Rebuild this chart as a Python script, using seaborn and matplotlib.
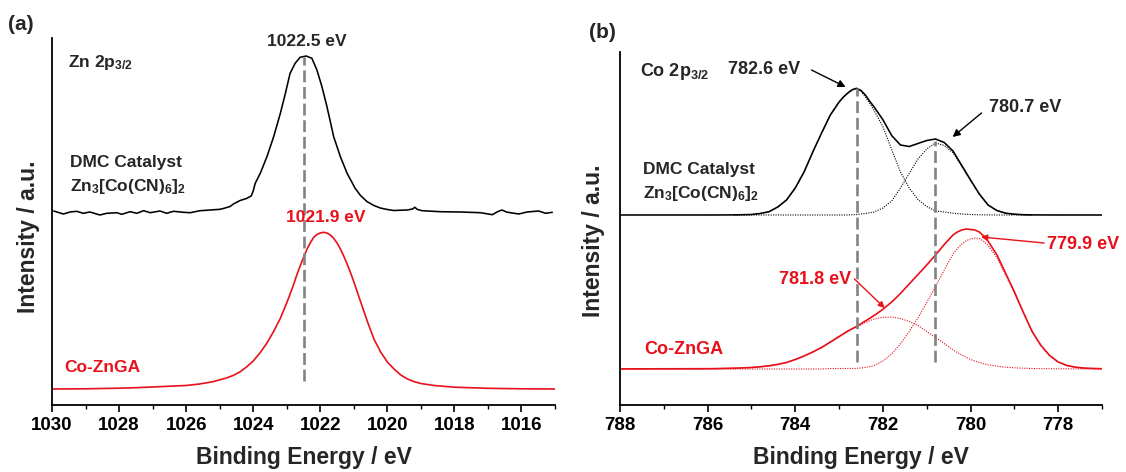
import matplotlib
matplotlib.use("Agg")
import matplotlib.pyplot as plt
import pandas as pd
import seaborn as sns

# ---------------- data ----------------
# Panel (a): Zn 2p3/2
ZN_DMC_E = [1029.95, 1029.66, 1029.46, 1029.26, 1029.07, 1028.87, 1028.57, 1028.37, 1028.07,
            1027.92, 1027.67, 1027.47, 1027.27, 1027.07, 1026.78, 1026.58, 1026.38, 1026.08,
            1025.88, 1025.58, 1025.28, 1024.99, 1024.89, 1024.69, 1024.59, 1024.39, 1024.20,
            1024.06, 1024.00, 1023.94, 1023.79, 1023.59, 1023.39, 1023.19, 1023.04, 1022.90,
            1022.75, 1022.60, 1022.42, 1022.25, 1022.10, 1021.95, 1021.80, 1021.60, 1021.40,
            1021.20, 1020.96, 1020.80, 1020.61, 1020.40, 1020.21, 1020.00, 1019.81, 1019.41,
            1019.25, 1019.18, 1019.10, 1018.96, 1018.42, 1017.82, 1017.22, 1016.87, 1016.70,
            1016.58, 1016.45, 1016.33, 1016.08, 1015.83, 1015.49, 1015.28, 1015.08]
ZN_DMC_I = [4.0, 1.0, 3.0, 3.7, 1.7, 3.0, 0.0, 1.7, 2.3,
            0.7, 3.3, 1.7, 4.3, 2.3, 4.0, 1.7, 3.7, 2.7,
            2.3, 4.3, 5.0, 5.7, 6.5, 8.5, 11.0, 14.5, 16.5,
            19.0, 24.0, 31.7, 41.7, 58.3, 78.3, 101.7, 121.7, 141.7,
            151.7, 157.7, 159.0, 156.7, 145.0, 128.3, 108.3, 78.3, 58.3,
            41.7, 26.7, 19.5, 13.5, 9.5, 7.0, 5.5, 4.5, 5.0,
            6.0, 7.7, 5.5, 4.3, 3.3, 3.0, 2.3, 0.3, 3.5,
            5.0, 3.0, 2.3, 1.0, 3.0, 4.0, 1.7, 2.7]

ZN_GA_E = [1030.0, 1029.0, 1028.0, 1027.5, 1027.0, 1026.5, 1026.0, 1025.6, 1025.2, 1024.8,
           1024.6, 1024.4, 1024.2, 1024.0, 1023.8, 1023.6, 1023.4, 1023.2, 1023.0, 1022.8,
           1022.7, 1022.6, 1022.5, 1022.4, 1022.3, 1022.2, 1022.1, 1022.0, 1021.9, 1021.8,
           1021.7, 1021.6, 1021.5, 1021.4, 1021.3, 1021.2, 1021.1, 1021.0,
           1020.8, 1020.6, 1020.4, 1020.2, 1020.0, 1019.8, 1019.6, 1019.4, 1019.2, 1019.0,
           1018.6, 1018.0, 1017.0, 1016.0, 1015.0]
ZN_GA_I = [0.0, 0.2, 0.8, 1.3, 2.0, 2.8, 3.5, 5.0, 7.3, 11.0,
           13.5, 17.0, 22.0, 28.0, 36.0, 45.5, 57.0, 70.0, 86.0, 104.0,
           114.0, 123.0, 131.5, 139.5, 146.0, 151.5, 154.5, 156.0, 156.7, 156.0,
           154.0, 150.7, 146.0, 140.0, 133.0, 125.0, 116.5, 107.3,
           87.5, 68.0, 50.0, 37.0, 27.0, 20.0, 14.0, 10.0, 7.3, 5.5,
           3.5, 1.8, 0.7, 0.2, 0.0]

ZN_PEAK_E = [1022.5]
ZN_PEAK_TOP = [348.0]
ZN_PEAK_BOTTOM = [24.0]

# Panel (b): Co 2p3/2, DMC catalyst
CO_DMC_E = [788.0, 786.0, 785.4, 785.2, 785.0, 784.8, 784.6, 784.4, 784.2, 784.0, 783.8, 783.6,
            783.4, 783.2, 783.0, 782.9, 782.8, 782.7, 782.6, 782.5, 782.4, 782.3, 782.2, 782.0,
            781.8, 781.6, 781.4, 781.2,
            781.0, 780.8, 780.6, 780.4, 780.2, 780.0, 779.8, 779.6, 779.4, 779.2, 779.0, 778.8,
            778.6, 778.0, 777.0]
CO_DMC_ENV = [0.0, 0.0, 0.1, 0.3, 0.5, 1.5, 3.3, 8.0, 15.0, 27.0, 43.0, 63.0,
              82.0, 100.0, 113.0, 118.0, 122.0, 125.3, 126.7, 124.5, 120.0, 113.7, 108.0, 95.3,
              79.5, 70.0, 68.5, 71.5,
              74.5, 76.0, 72.5, 64.0, 49.5, 35.0, 21.0, 10.0, 4.5, 1.8, 0.8, 0.3,
              0.1, 0.0, 0.0]
CO_DMC_P1 = [None, None, 0.1, 0.3, 0.5, 1.5, 3.3, 8.0, 15.0, 27.0, 43.0, 63.0,
             82.0, 100.0, 113.0, 118.0, 122.0, 125.0, 126.5, 123.5, 118.0, 111.5, 104.5, 88.3,
             65.5, 43.0, 27.0, 15.5,
             8.5, 4.0, 3.0, 1.8, 1.0, 0.5, 0.2, 0.1, 0.0, 0.0, 0.0, 0.0,
             0.0, None, None]
CO_DMC_P2 = [None, None, 0.0, 0.0, 0.0, 0.0, 0.0, 0.0, 0.0, 0.0, 0.0, 0.0,
             0.0, 0.0, 0.0, 0.0, 0.0, 0.3, 0.5, 1.0, 1.5, 2.2, 3.0, 7.0,
             14.0, 27.0, 41.5, 56.0,
             66.0, 72.0, 69.5, 62.2, 48.5, 34.5, 20.8, 9.9, 4.5, 1.8, 0.8, 0.3,
             0.1, None, None]

# Panel (b): Co 2p3/2, Co-ZnGA
CO_GA_E = [788.0, 787.0, 786.0, 785.8, 785.6, 785.4, 785.2, 785.0, 784.8, 784.6, 784.4, 784.2,
           784.0, 783.8, 783.6, 783.4, 783.2, 783.0, 782.8, 782.6, 782.4, 782.2, 782.0, 781.8,
           781.6, 781.4, 781.2, 781.0, 780.8, 780.6, 780.4, 780.3, 780.2, 780.1, 780.0, 779.9,
           779.8, 779.7, 779.6, 779.4,
           779.2, 779.0, 778.8, 778.6, 778.4, 778.2, 778.0, 777.8, 777.6, 777.4, 777.2, 777.0]
CO_GA_ENV = [0.1, 0.2, 0.3, 0.4, 0.6, 0.8, 1.1, 1.5, 2.2, 3.2, 4.6, 6.5,
             9.5, 13.0, 17.0, 21.5, 27.0, 32.5, 38.0, 42.6, 48.0, 53.5, 59.7, 67.0,
             75.5, 85.0, 94.5, 104.0, 114.0, 124.5, 134.0, 137.0, 139.0, 140.0, 139.5, 139.0,
             137.0, 133.0, 127.8, 114.3,
             95.8, 77.2, 57.1, 38.0, 24.0, 13.7, 7.0, 3.5, 1.8, 0.9, 0.5, 0.3]
CO_GA_P1 = [0.1, 0.2, 0.3, 0.4, 0.6, 0.8, 1.1, 1.5, 2.2, 3.2, 4.6, 6.5,
            9.5, 13.0, 17.0, 21.5, 26.5, 32.0, 37.5, 42.0, 46.5, 50.0, 51.7, 52.0,
            50.5, 47.5, 43.5, 37.5, 31.5, 25.5, 19.0, 16.5, 14.0, 11.7, 9.5, 8.0,
            6.5, 5.3, 4.3, 2.8,
            1.8, 1.2, 0.8, 0.5, 0.4, 0.3, 0.2, 0.2, 0.1, 0.1, 0.1, 0.1]
CO_GA_P2 = [0.0, 0.0, 0.0, 0.0, 0.0, 0.0, 0.0, 0.0, 0.0, 0.0, 0.0, 0.0,
            0.0, 0.0, 0.0, 0.0, 0.5, 0.5, 0.5, 0.6, 1.5, 3.5, 8.0, 15.0,
            25.0, 37.5, 51.0, 66.5, 82.5, 99.0, 115.0, 120.5, 125.0, 128.3, 130.0, 131.0,
            130.5, 127.7, 123.5, 111.5,
            94.0, 76.0, 56.3, 37.5, 23.6, 13.4, 6.8, 3.3, 1.7, 0.8, 0.4, 0.2]

CO_PEAK_E = [782.6, 780.8]
CO_PEAK_TOP = [317.0, 264.0]
CO_PEAK_BOTTOM = [43.0, 43.0]

X_TICKS_A = [1030, 1028, 1026, 1024, 1022, 1020, 1018, 1016]
X_MINOR_A = [1029, 1027, 1025, 1023, 1021, 1019, 1017, 1015]
X_TICKS_B = [788, 786, 784, 782, 780, 778]
X_MINOR_B = [787, 785, 783, 781, 779, 777]

# ---------------- style ----------------
RED = "#E8101A"
GREY = "#828282"
OFF_A_DMC, OFF_A_GA = 190.0, 16.0
OFF_B_DMC, OFF_B_GA = 190.0, 36.0

sns.set_theme(style="ticks")
plt.rcParams["font.family"] = ["Liberation Sans", "DejaVu Sans"]
plt.rcParams["font.weight"] = "bold"
plt.rcParams["axes.labelweight"] = "bold"
plt.rcParams["mathtext.fontset"] = "custom"
plt.rcParams["mathtext.rm"] = "Liberation Sans:bold"
plt.rcParams["mathtext.it"] = "Liberation Sans:bold"
plt.rcParams["mathtext.bf"] = "Liberation Sans:bold"
plt.rcParams["mathtext.sf"] = "Liberation Sans:bold"

W, H = 1126, 472
fig = plt.figure(figsize=(W / 100, H / 100), dpi=100)
axA = fig.add_axes([52 / W, 67 / H, 503 / W, 367 / H])
axB = fig.add_axes([620 / W, 67 / H, 482 / W, 353 / H])


def line(ax, xs, ys, off, color, lw, ls="-"):
    df = pd.DataFrame({"E": xs, "I": ys}).dropna()
    df["I"] = df["I"] + off
    sns.lineplot(data=df, x="E", y="I", ax=ax, color=color, lw=lw, linestyle=ls,
                 sort=False, estimator=None)


# ---- panel (a)
line(axA, ZN_DMC_E, ZN_DMC_I, OFF_A_DMC, "black", 1.15)
line(axA, ZN_GA_E, ZN_GA_I, OFF_A_GA, RED, 1.2)
axA.vlines(ZN_PEAK_E, ZN_PEAK_BOTTOM, ZN_PEAK_TOP, colors=GREY, lw=1.9,
           linestyles=[(0, (4.5, 1.8))])

# ---- panel (b)
dot = (0, (1.0, 1.2))
line(axB, CO_DMC_E, CO_DMC_ENV, OFF_B_DMC, "black", 1.15)
line(axB, CO_DMC_E, CO_DMC_P1, OFF_B_DMC, "black", 0.8, dot)
line(axB, CO_DMC_E, CO_DMC_P2, OFF_B_DMC, "black", 0.8, dot)
line(axB, CO_GA_E, CO_GA_ENV, OFF_B_GA, RED, 1.2)
line(axB, CO_GA_E, CO_GA_P1, OFF_B_GA, RED, 0.8, dot)
line(axB, CO_GA_E, CO_GA_P2, OFF_B_GA, RED, 0.8, dot)
axB.vlines(CO_PEAK_E, CO_PEAK_BOTTOM, CO_PEAK_TOP, colors=GREY, lw=1.9,
           linestyles=[(0, (4.5, 1.8))])

# ---- axes formatting
for ax, lim, ticks, minor, ytop, lab_x, lab_y, xl_y in (
        (axA, (1030, 1015), X_TICKS_A, X_MINOR_A, 367, -0.024, 0.458, -0.112),
        (axB, (788, 777), X_TICKS_B, X_MINOR_B, 353, -0.031, 0.465, -0.117)):
    ax.set_xlim(*lim)
    ax.set_ylim(0, ytop)
    ax.set_xticks(ticks)
    ax.set_xticks(minor, minor=True)
    ax.set_xticklabels([str(t) for t in ticks])
    ax.set_yticks([])
    ax.tick_params(axis="x", which="major", length=5, width=1.2, direction="out",
                   labelsize=13.5, pad=3.5, color="black", labelcolor="black")
    ax.tick_params(axis="x", which="minor", length=3, width=1.0, direction="out",
                   color="black")
    for s in ("top", "right"):
        ax.spines[s].set_visible(False)
    for s in ("left", "bottom"):
        ax.spines[s].set_linewidth(1.3)
        ax.spines[s].set_color("black")
    ax.set_xlabel("Binding Energy / eV", fontsize=16.5, fontweight="bold")
    ax.set_ylabel("Intensity / a.u.", fontsize=16.5, fontweight="bold")
    ax.yaxis.set_label_coords(lab_x, lab_y)
    ax.xaxis.set_label_coords(0.5, xl_y)
    ax.set_facecolor("white")
    for lbl in ax.get_xticklabels():
        lbl.set_fontweight("bold")

# ---- texts panel (a)
fs = 12.5
axA.text(1029.52, 343, r"Zn 2p$_{3/2}$", fontsize=fs, fontweight="bold", va="center", ha="left")
axA.text(1029.46, 242, "DMC Catalyst", fontsize=fs, fontweight="bold", va="center", ha="left")
axA.text(1029.46, 218, r"Zn$_3$[Co(CN)$_6$]$_2$", fontsize=fs, fontweight="bold",
         va="center", ha="left")
axA.text(1022.39, 363, "1022.5 eV", fontsize=fs, fontweight="bold", va="center",
         ha="center", clip_on=False)
axA.text(1021.85, 187, "1021.9 eV", fontsize=fs, fontweight="bold", va="center",
         ha="center", color=RED)
axA.text(1029.64, 37, "Co-ZnGA", fontsize=fs, fontweight="bold", va="center",
         ha="left", color=RED)

# ---- texts panel (b)
fsb = 13
axB.text(787.54, 333, r"Co 2p$_{3/2}$", fontsize=fsb, fontweight="bold", va="center", ha="left")
axB.text(784.72, 335, "782.6 eV", fontsize=fsb, fontweight="bold", va="center", ha="center")
axB.text(778.75, 297, "780.7 eV", fontsize=fsb, fontweight="bold", va="center", ha="center")
axB.text(787.48, 235, "DMC Catalyst", fontsize=fs, fontweight="bold", va="center", ha="left")
axB.text(787.48, 211, r"Zn$_3$[Co(CN)$_6$]$_2$", fontsize=fs, fontweight="bold",
         va="center", ha="left")
axB.text(787.45, 55, "Co-ZnGA", fontsize=fsb, fontweight="bold", va="center",
         ha="left", color=RED)
axB.text(782.72, 125, "781.8 eV", fontsize=fsb, fontweight="bold", va="center",
         ha="right", color=RED)
axB.text(778.25, 160, "779.9 eV", fontsize=fsb, fontweight="bold", va="center",
         ha="left", color=RED, clip_on=False)

arrow_k = dict(arrowstyle="-|>", color="black", lw=1.0, mutation_scale=11,
               shrinkA=0, shrinkB=0)
arrow_r = dict(arrowstyle="-|>", color=RED, lw=1.0, mutation_scale=9,
               shrinkA=0, shrinkB=0)
axB.annotate("", xy=(782.85, 318), xytext=(783.63, 335), arrowprops=arrow_k)
axB.annotate("", xy=(780.41, 268), xytext=(779.75, 292), arrowprops=arrow_k)
axB.annotate("", xy=(781.96, 97), xytext=(782.65, 126), arrowprops=arrow_r)
axB.annotate("", xy=(779.76, 168), xytext=(778.32, 162), arrowprops=arrow_r,
             annotation_clip=False)

# ---- panel labels
fig.text(8 / W, 1 - 25 / H, "(a)", fontsize=15, fontweight="bold", va="center", ha="left")
fig.text(589 / W, 1 - 32 / H, "(b)", fontsize=15, fontweight="bold", va="center", ha="left")

fig.savefig("out.png", dpi=100, facecolor="white")
